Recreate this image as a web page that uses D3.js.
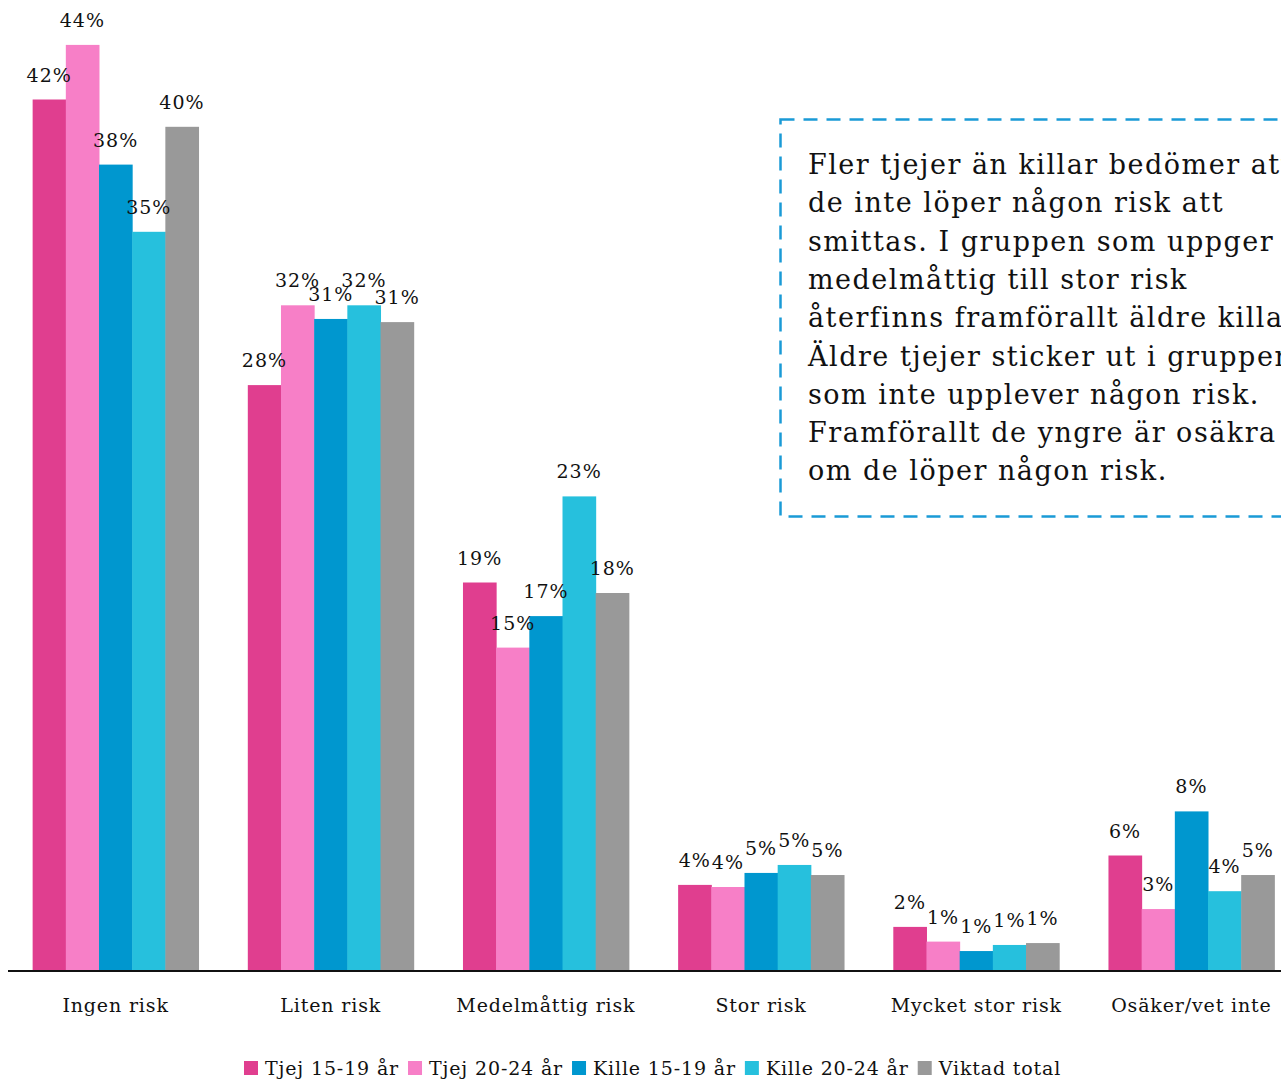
<!DOCTYPE html>
<html><head><meta charset="utf-8">
<script src="https://cdn.jsdelivr.net/npm/d3@7"></script>
<style>body{margin:0;background:#fff;} svg{display:block;}</style>
</head><body>
<svg id="c" width="1281" height="1079"></svg>
<script>
const categories = ["Ingen risk","Liten risk","Medelmåttig risk","Stor risk","Mycket stor risk","Osäker/vet inte"];
const seriesNames = ["Tjej 15-19 år","Tjej 20-24 år","Kille 15-19 år","Kille 20-24 år","Viktad total"];
const tjej1519 = [41.5, 27.9, 18.5, 4.1, 2.1, 5.5];
const tjej2024 = [44.1, 31.7, 15.4, 4.0, 1.4, 2.95];
const kille1519 = [38.4, 31.05, 16.9, 4.67, 0.95, 7.6];
const kille2024 = [35.2, 31.7, 22.6, 5.05, 1.24, 3.8];
const viktad = [40.2, 30.9, 18.0, 4.57, 1.33, 4.57];
const colors = ["#e03e8f","#f77fc7","#0097cf","#26c0dd","#999999"];
const noteLines = ["Fler tjejer än killar bedömer att","de inte löper någon risk att","smittas. I gruppen som uppger","medelmåttig till stor risk","återfinns framförallt äldre killar.","Äldre tjejer sticker ut i gruppen","som inte upplever någon risk.","Framförallt de yngre är osäkra","om de löper någon risk."];

const series = [tjej1519, tjej2024, kille1519, kille2024, viktad];
const FONT = "'DejaVu Serif', serif";
const svg = d3.select("#c");
const baseY = 971;
const x0 = d3.scaleBand().domain(categories).range([8, 1299]).paddingInner(0.229).paddingOuter(0.1145);
const x1 = d3.scaleBand().domain(seriesNames).range([0, x0.bandwidth()]);
const y = d3.scaleLinear().domain([0, 971/21]).range([baseY, 0]);

const g = svg.append("g");
categories.forEach((c, ci) => {
  const gg = g.append("g").attr("transform", `translate(${x0(c)},0)`);
  seriesNames.forEach((s, si) => {
    const v = series[si][ci];
    gg.append("rect").attr("x", x1(s)).attr("width", x1.bandwidth()+0.5)
      .attr("y", y(v)).attr("height", baseY - y(v)).attr("fill", colors[si]);
  });
  seriesNames.forEach((s, si) => {
    const v = series[si][ci];
    gg.append("text").attr("x", x1(s) + x1.bandwidth()/2).attr("y", y(v) - 18)
      .attr("text-anchor","middle").attr("font-family", FONT).attr("font-size", 19)
      .attr("letter-spacing", 1).attr("fill","#111").text(Math.round(v) + "%");
  });
});

// x axis
const xAxis = d3.axisBottom(x0).tickSize(0).tickPadding(28);
const ax = svg.append("g").attr("transform", `translate(0,${baseY})`).call(xAxis);
ax.select(".domain").attr("d", "M8,0H1281").attr("stroke","#111").attr("stroke-width",2);
ax.selectAll("text").attr("font-family", FONT).attr("font-size", 19).attr("letter-spacing", 0.85).attr("fill","#111");

// note box
svg.append("rect").attr("x", 780.5).attr("y", 119.5).attr("width", 560).attr("height", 397)
  .attr("fill","none").attr("stroke","#1a9ad6").attr("stroke-width",2.5).attr("stroke-dasharray","14 9");
const nt = svg.append("text").attr("font-family", FONT).attr("font-size", 27).attr("letter-spacing", 1.5).attr("fill","#111");
noteLines.forEach((l, i) => {
  nt.append("tspan").attr("x", 808).attr("y", 174 + i*38.3).text(l);
});

// legend
const lg = svg.append("g").attr("transform","translate(244,1068)");
let lx = 0;
seriesNames.forEach((s, si) => {
  const it = lg.append("g").attr("transform", `translate(${lx},0)`);
  it.append("rect").attr("x",0).attr("y",-7).attr("width",14).attr("height",14).attr("fill",colors[si]);
  const t = it.append("text").attr("x", 21).attr("y", 7).attr("font-family", FONT).attr("font-size", 19).attr("letter-spacing", 0.85).attr("fill","#111").text(s);
  lx += 21 + t.node().getComputedTextLength() + 9;
});
</script>
</body></html>
